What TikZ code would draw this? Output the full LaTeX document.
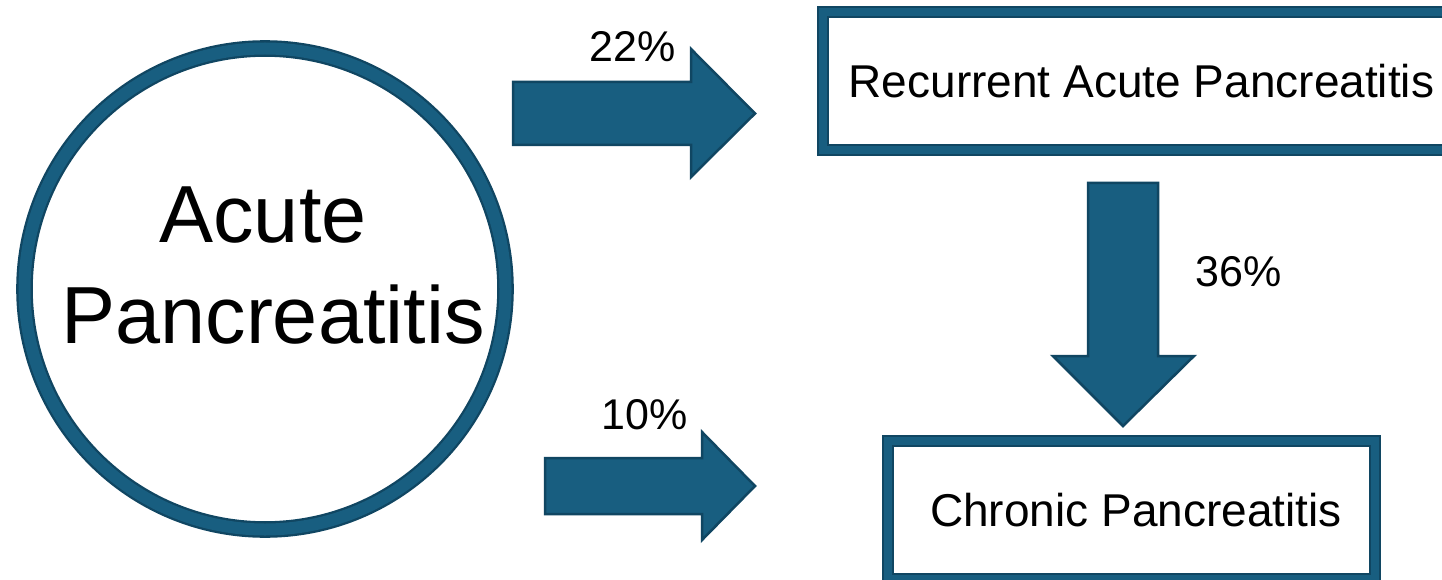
\documentclass[tikz,border=0pt]{standalone}
\usepackage{fontspec}
\setmainfont{Liberation Sans}
\definecolor{apblue}{RGB}{24,94,128}
\definecolor{apdark}{RGB}{16,70,98}
\tikzset{
  ring/.style={draw=apdark, double=apblue, double distance=12pt, line width=2.3pt},
  boxframe/.style={draw=apdark, double=apblue, double distance=8pt, line width=2pt, fill=white, inner sep=0pt},
  blockarrow/.style={fill=apblue, draw=apdark, line width=2.5pt, line join=miter},
  bigtxt/.style={font=\fontsize{81}{97}\selectfont, inner sep=0pt},
  boxtxt/.style={font=\fontsize{46}{55}\selectfont},
  pcttxt/.style={font=\fontsize{43}{52}\selectfont, inner sep=0pt}
}
\begin{document}
\begin{tikzpicture}[x=1pt, y=-1pt]
\useasboundingbox[fill=white] (0,0) rectangle (1442,580);

% circle: Acute Pancreatitis
\node (ap) [circle, ring, fill=white, minimum size=481pt, inner sep=0pt] at (265,289) {};
\node (apA) [bigtxt, anchor=base] at (263,242) {Acute};
\node (apB) [bigtxt, anchor=base] at (273,343) {Pancreatitis};

% boxes
\node (rap) [boxframe, minimum width=637pt, minimum height=138pt] at (1141.5,81) {};
\node (raptxt) [boxtxt] at (1141.5,81) {Recurrent Acute Pancreatitis};
\node (cp) [boxframe, minimum width=487pt, minimum height=138pt] at (1131.5,510) {};
\node (cptxt) [boxtxt] at (1136,510) {Chronic Pancreatitis};

% block arrows
\draw[blockarrow] (513,82) -- (691,82) -- (691,49) -- (755,113.5) -- (691,177) -- (691,145) -- (513,145) -- cycle;
\draw[blockarrow] (545,458) -- (702,458) -- (702,432) -- (755,486) -- (702,540) -- (702,514) -- (545,514) -- cycle;
\draw[blockarrow] (1088,183) -- (1158,183) -- (1158,356) -- (1194,356) -- (1123,426) -- (1053,356) -- (1088,356) -- cycle;

% percentages
\node (p22) [pcttxt, anchor=base] at (633,62) {22\%};
\node (p10) [pcttxt, anchor=base] at (644.5,429) {10\%};
\node (p36) [pcttxt, anchor=base] at (1238.5,286) {36\%};
\end{tikzpicture}
\end{document}
